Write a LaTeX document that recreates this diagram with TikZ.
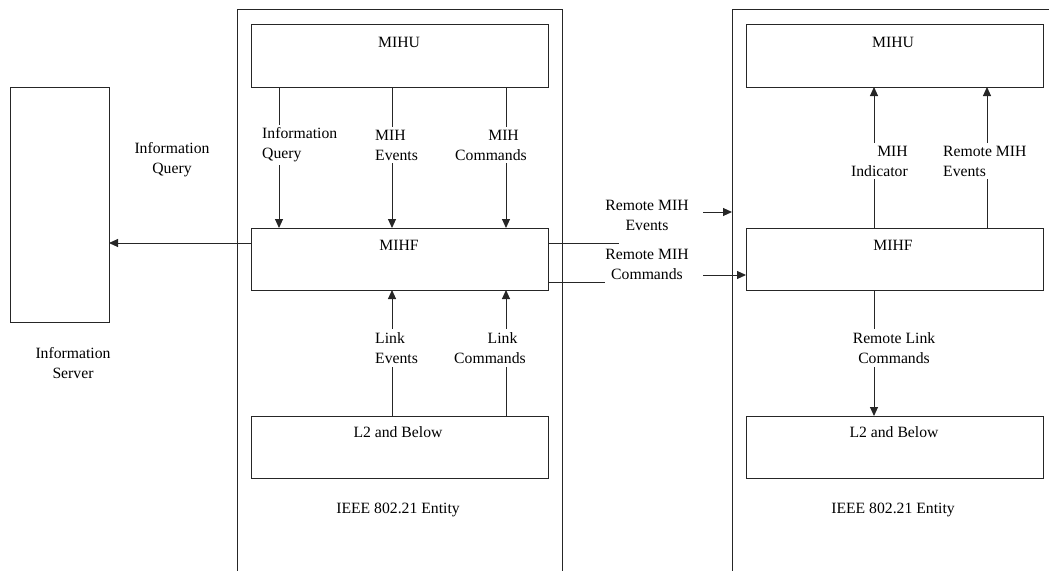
\documentclass[tikz,border=0pt]{standalone}
\usepackage{fontspec}
\setmainfont{Liberation Serif}
\usetikzlibrary{arrows.meta,calc}
\begin{document}
\begin{tikzpicture}[x=1pt,y=-1pt,
  box/.style={draw=black!85, line width=1pt, inner sep=0pt, outer sep=0pt},
  txt/.style={font=\fontsize{15.7}{20}\selectfont, inner sep=2pt, text=black},
  lbl/.style={txt, fill=white, inner sep=3pt},
  conn/.style={draw=black!85, line width=1pt},
  arr/.style={conn, -{Triangle[length=9pt,width=8pt]}}
]
\useasboundingbox (0,0) rectangle (1049,570);
\begin{scope}
\clip (0,0) rectangle (1049,570);
\node[box, minimum width=325pt, minimum height=600pt] (lent) at (399.5,309) {};
\node[box, minimum width=340pt, minimum height=600pt] (rent) at (902,309) {};
\end{scope}

% boxes
\node[box, minimum width=99pt, minimum height=235pt] (server) at (59.5,204.5) {};
\node[box, minimum width=297pt, minimum height=63pt] (lmihu) at (399.5,55.5) {};
\node[box, minimum width=297pt, minimum height=62pt] (lmihf) at (399.5,259) {};
\node[box, minimum width=297pt, minimum height=62pt] (ll2) at (399.5,447) {};
\node[box, minimum width=297pt, minimum height=63pt] (rmihu) at (894.5,55.5) {};
\node[box, minimum width=297pt, minimum height=62pt] (rmihf) at (894.5,259) {};
\node[box, minimum width=297pt, minimum height=62pt] (rl2) at (894.5,447) {};

% box titles
\node[txt] (tlmihu) at (399,42) {MIHU};
\node[txt] (tlmihf) at (399,245) {MIHF};
\node[txt] (tll2) at (398,432) {L2 and Below};
\node[txt] (tlent) at (398,510) {IEEE 802.21 Entity};
\node[txt] (trmihu) at (893,42) {MIHU};
\node[txt] (trmihf) at (893,245) {MIHF};
\node[txt] (trl2) at (894,432) {L2 and Below};
\node[txt] (trent) at (893,510) {IEEE 802.21 Entity};
\node[txt, align=center] (tserver) at (73,363) {Information\\Server};

% column coordinates
\coordinate (xa) at (279,0);
\coordinate (xb) at (392,0);
\coordinate (xc) at (506,0);
\coordinate (xd) at (874,0);
\coordinate (xe) at (987,0);

% vertical connectors
\draw[arr] (lmihu.south -| xa) -- (lmihf.north -| xa);
\draw[arr] (lmihu.south -| xb) -- (lmihf.north -| xb);
\draw[arr] (lmihu.south -| xc) -- (lmihf.north -| xc);
\draw[arr] (ll2.north -| xb) -- (lmihf.south -| xb);
\draw[arr] (ll2.north -| xc) -- (lmihf.south -| xc);
\draw[arr] (rmihf.north -| xd) -- (rmihu.south -| xd);
\draw[arr] (rmihf.north -| xe) -- (rmihu.south -| xe);
\draw[arr] (rmihf.south -| xd) -- (rl2.north -| xd);

% information query to server
\coordinate (yq) at (0,243);
\draw[arr] (lmihf.west |- yq) -- (server.east |- yq);

% remote lines
\coordinate (re1) at (619,243);
\coordinate (re2) at (605,282);
\draw[conn] (lmihf.east |- re1) -- (re1);
\draw[conn] (lmihf.east |- re2) -- (re2);
\coordinate (rs1) at (703,212);
\coordinate (rs2) at (703,275);
\draw[arr] (rs1) -- (rent.west |- rs1);
\draw[arr] (rs2) -- (rmihf.west |- rs2);

% connector labels
\node[lbl, align=left, anchor=west] (liq) at (259,145) {Information\\Query};
\node[lbl, align=left, anchor=west] (lme) at (372,145) {MIH\\Events};
\node[lbl, align=center] (lmc) at (491,145) {\hspace*{1.6em}MIH\\Commands};
\node[lbl, align=left, anchor=west] (lle) at (372,348) {Link\\Events};
\node[lbl, align=center] (llc) at (490,348) {\hspace*{1.6em}Link\\Commands};
\node[lbl, align=right, anchor=east] (rmi) at (911,161) {MIH\\Indicator};
\node[lbl, align=left, anchor=west] (rme) at (940,161) {Remote MIH\\Events};
\node[lbl, align=center] (rlc) at (894,348) {Remote Link\\Commands};
\node[txt, align=center] (siq) at (172,160) {Information\\Query};
\node[txt, align=center] (mre) at (647,215) {Remote MIH\\Events};
\node[txt, align=center] (mrc) at (647,264) {Remote MIH\\Commands};
\end{tikzpicture}
\end{document}
